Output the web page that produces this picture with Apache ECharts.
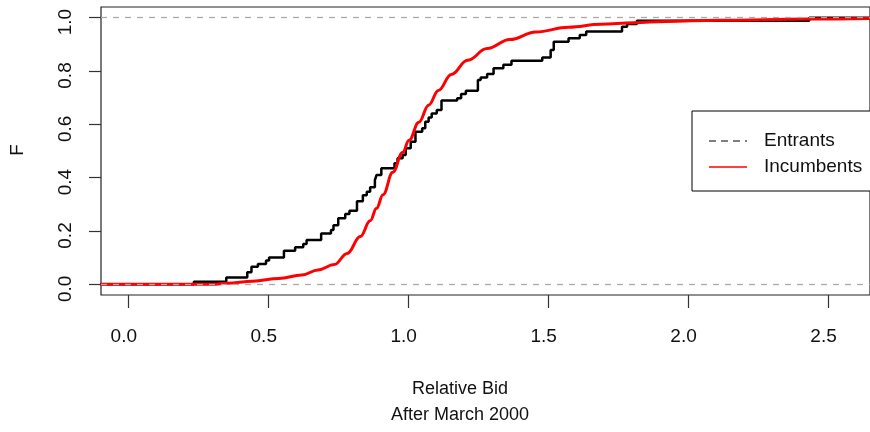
<!DOCTYPE html>
<html>
<head>
  <meta charset="UTF-8">
  <title>Relative Bid - After March 2000</title>
  <style>
    html, body { margin: 0; padding: 0; background: #fff; overflow: hidden; }
    #chart { width: 870px; height: 432px; }
  </style>
  <script src="https://cdn.jsdelivr.net/npm/echarts@6.0.0/dist/echarts.min.js"></script>
</head>
<body>
<div id="chart"></div>
<script>
  // Entrants: empirical cdf, value F reached at each bid
  var entrantBid = [-0.1, 0.234, 0.350, 0.425, 0.440, 0.463, 0.492, 0.503, 0.556, 0.596, 0.625, 0.637,
    0.689, 0.724, 0.733, 0.750, 0.775, 0.790, 0.817, 0.838, 0.852, 0.864, 0.881, 0.887, 0.904, 0.951,
    0.962, 0.980, 0.991, 1.009, 1.026, 1.050, 1.061, 1.073, 1.084, 1.102, 1.119, 1.175, 1.189, 1.206,
    1.249, 1.259, 1.282, 1.305, 1.340, 1.369, 1.479, 1.509, 1.520, 1.573, 1.613, 1.636, 1.764, 1.782,
    1.817, 2.433, 2.7];
  var entrantF = [0, 0.010, 0.026, 0.045, 0.066, 0.076, 0.089, 0.101, 0.126, 0.139, 0.151, 0.166,
    0.191, 0.204, 0.222, 0.248, 0.264, 0.276, 0.312, 0.334, 0.347, 0.364, 0.391, 0.410, 0.435, 0.454,
    0.473, 0.485, 0.510, 0.535, 0.572, 0.585, 0.610, 0.626, 0.641, 0.654, 0.689, 0.698, 0.714, 0.726,
    0.766, 0.776, 0.789, 0.810, 0.823, 0.838, 0.851, 0.879, 0.910, 0.923, 0.935, 0.948, 0.966, 0.976,
    0.988, 1.0, 1.0];

  // Incumbents: smooth cdf
  var incumbentBid = [-0.1, 0.30, 0.352, 0.445, 0.538, 0.620, 0.678, 0.736, 0.782, 0.829, 0.864, 0.887,
    0.910, 0.945, 0.980, 1.003, 1.038, 1.073, 1.108, 1.154, 1.212, 1.282, 1.363, 1.456, 1.573, 1.689,
    1.805, 1.921, 2.106, 2.433, 2.7];
  var incumbentF = [0, 0, 0.004, 0.012, 0.022, 0.035, 0.054, 0.074, 0.116, 0.179, 0.238, 0.285,
    0.336, 0.420, 0.494, 0.540, 0.608, 0.672, 0.727, 0.787, 0.840, 0.884, 0.918, 0.946, 0.964, 0.975,
    0.981, 0.986, 0.990, 0.995, 0.998];

  var xTicks = [0, 0.5, 1, 1.5, 2, 2.5];
  var yTicks = [0, 0.2, 0.4, 0.6, 0.8, 1];
  var refLines = [0, 1];

  var FONT = '"Liberation Sans", Arial, sans-serif';

  function pairs(xs, ys) {
    return xs.map(function (x, i) { return [x, ys[i]]; });
  }

  var chart = echarts.init(document.getElementById('chart'));

  var option = {
    animation: false,
    backgroundColor: '#fff',
    grid: {
      left: 101, top: 7, width: 788, height: 288,
      show: true, borderColor: '#222', borderWidth: 1.2, backgroundColor: 'transparent'
    },
    xAxis: {
      type: 'value',
      min: -0.0976, max: 2.65,
      axisLine: { show: false, onZero: false },
      splitLine: { show: false },
      axisTick: {
        customValues: xTicks, length: 13,
        lineStyle: { color: '#333', width: 1.2 }
      },
      axisLabel: {
        customValues: xTicks,
        margin: 32, fontSize: 19, color: '#111', fontFamily: FONT,
        padding: [0, 9, 0, 0],
        formatter: function (v) { return v.toFixed(1); }
      }
    },
    yAxis: {
      type: 'value',
      min: -0.04, max: 1.04,
      axisLine: { show: false, onZero: false },
      splitLine: { show: false },
      axisTick: {
        customValues: yTicks, length: 12,
        lineStyle: { color: '#333', width: 1.2 }
      },
      axisLabel: {
        customValues: yTicks,
        rotate: 90, margin: 26, fontSize: 19, color: '#111', fontFamily: FONT,
        padding: [0, 9, 0, 0],
        formatter: function (v) { return v.toFixed(1); }
      }
    },
    series: [
      {
        name: 'Entrants',
        type: 'line',
        step: 'end',
        showSymbol: false,
        data: pairs(entrantBid, entrantF),
        lineStyle: { color: '#000', width: 2.5 },
        markLine: {
          silent: true,
          symbol: 'none',
          label: { show: false },
          lineStyle: { color: '#aaaaaa', type: [6, 6], width: 1.3 },
          data: refLines.map(function (v) { return { yAxis: v }; })
        }
      },
      {
        name: 'Incumbents',
        type: 'line',
        smooth: 0.4,
        smoothMonotone: 'x',
        showSymbol: false,
        data: pairs(incumbentBid, incumbentF),
        lineStyle: { color: '#ff0000', width: 3 }
      }
    ],
    graphic: [
      // legend box
      { type: 'rect', z: 100, shape: { x: 692, y: 111, width: 200, height: 80 },
        style: { fill: '#fff', stroke: '#000', lineWidth: 1 } },
      { type: 'line', z: 101, shape: { x1: 709, y1: 141, x2: 747, y2: 141 },
        style: { stroke: '#555', lineWidth: 1.5, lineDash: [7, 5] } },
      { type: 'text', z: 101, x: 764, y: 141,
        style: { text: 'Entrants', font: '19px ' + FONT, fill: '#111', verticalAlign: 'middle' } },
      { type: 'line', z: 101, shape: { x1: 709, y1: 167, x2: 747, y2: 167 },
        style: { stroke: '#ff0000', lineWidth: 1.5 } },
      { type: 'text', z: 101, x: 764, y: 167,
        style: { text: 'Incumbents', font: '19px ' + FONT, fill: '#111', verticalAlign: 'middle' } },
      // axis titles
      { type: 'text', x: 17.5, y: 150, rotation: Math.PI / 2,
        style: { text: 'F', font: '19px ' + FONT, fill: '#111', align: 'center', verticalAlign: 'middle' } },
      { type: 'text', x: 460, y: 389.5,
        style: { text: 'Relative Bid', font: '18px ' + FONT, fill: '#111', align: 'center', verticalAlign: 'middle' } },
      { type: 'text', x: 460, y: 415,
        style: { text: 'After March 2000', font: '18px ' + FONT, fill: '#111', align: 'center', verticalAlign: 'middle' } }
    ]
  };

  chart.setOption(option);
</script>
</body>
</html>
